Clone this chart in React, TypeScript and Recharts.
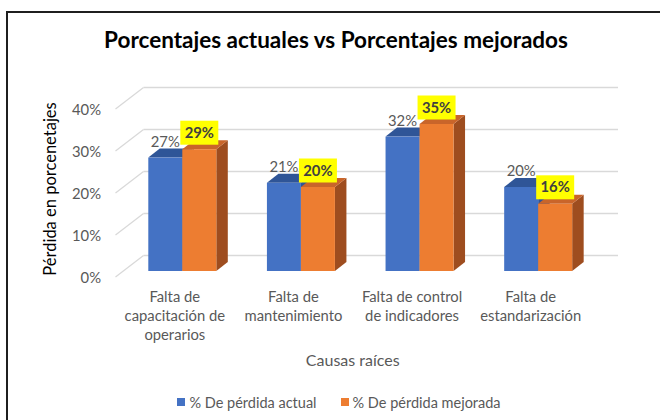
import React from 'react';
import { BarChart, Bar, XAxis, YAxis, CartesianGrid, LabelList, Legend, Label } from 'recharts';

const categories = [
  'Falta de capacitación de operarios',
  'Falta de mantenimiento',
  'Falta de control de indicadores',
  'Falta de estandarización',
];
const categoryLines = [
  ['Falta de', 'capacitación de', 'operarios'],
  ['Falta de', 'mantenimiento'],
  ['Falta de control', 'de indicadores'],
  ['Falta de', 'estandarización'],
];
const actual = [27, 21, 32, 20];
const mejorada = [29, 20, 35, 16];
const yTicks = [0, 10, 20, 30, 40];
const seriesNames = ['% De pérdida actual', '% De pérdida mejorada'];
const title = 'Porcentajes actuales vs Porcentajes mejorados';
const xTitle = 'Causas raíces';
const yTitle = 'Pérdida en porcenetajes';

const data = categories.map((c, i) => ({ cat: c, actual: actual[i], mejorada: mejorada[i] }));

const FONT = "Lato, 'Noto Sans', sans-serif";
const TEXT = '#595959';
const GRID = '#D9D9D9';

// pseudo-3D geometry
const FLOOR_DX = 28;
const FLOOR_DY = 21.5;
const SHIFT_X = 7.8;
const SHIFT_Y = 6;
const BAR_DX = 11.5;
const BAR_DY = 9;

const BLUE = { front: '#4472C4', top: '#2F5597', side: '#2F5597' };
const ORANGE = { front: '#ED7D31', top: '#C9652A', side: '#9E4D1F' };

const makeShape = (c: { front: string; top: string; side: string }) => (props: any) => {
  const { x, y, width, height } = props;
  if (width == null || height == null) return null;
  const fx = x + SHIFT_X;
  const fy = y - SHIFT_Y;
  const w = width;
  const h = height;
  return (
    <g>
      <polygon
        points={`${fx + w},${fy} ${fx + w + BAR_DX},${fy - BAR_DY} ${fx + w + BAR_DX},${fy + h - BAR_DY} ${fx + w},${fy + h}`}
        fill={c.side}
      />
      <polygon
        points={`${fx},${fy} ${fx + w},${fy} ${fx + w + BAR_DX},${fy - BAR_DY} ${fx + BAR_DX},${fy - BAR_DY}`}
        fill={c.top}
      />
      <rect x={fx} y={fy} width={w} height={h} fill={c.front} />
    </g>
  );
};

const gridLine = (p: any) => {
  const { x1, y1, x2, y2 } = p;
  return (
    <g key={`gl-${y1}`}>
      <line x1={x1} y1={y1} x2={x1 + FLOOR_DX} y2={y1 - FLOOR_DY} stroke={GRID} strokeWidth={1.3} />
      <line x1={x1 + FLOOR_DX} y1={y1 - FLOOR_DY} x2={x2 + FLOOR_DX} y2={y2 - FLOOR_DY} stroke={GRID} strokeWidth={1.3} />
    </g>
  );
};

const XTick = (props: any) => {
  const { x, y, payload } = props;
  const idx = categories.indexOf(payload.value);
  const lines = categoryLines[idx] || [payload.value];
  return (
    <text x={x} y={y} textAnchor="middle" fill={TEXT} fontSize={14.8} fontFamily={FONT}>
      {lines.map((l, i) => (
        <tspan key={i} x={x} y={y + 17 + i * 19}>
          {l}
        </tspan>
      ))}
    </text>
  );
};

const YTick = (props: any) => {
  const { y, payload } = props;
  return (
    <text x={101} y={y + 6} textAnchor="end" fill={TEXT} fontSize={14.8} fontFamily={FONT}>
      {`${payload.value}%`}
    </text>
  );
};

const actualLabel = (props: any) => {
  const { x, y, width, value } = props;
  const cx = x + SHIFT_X + width / 2;
  const fy = y - SHIFT_Y;
  return (
    <text x={cx} y={fy - 11} textAnchor="middle" fill={TEXT} fontSize={14.8} fontFamily={FONT}>
      {`${value}%`}
    </text>
  );
};

const mejoradaLabel = (props: any) => {
  const { x, y, width, value } = props;
  const cx = x + SHIFT_X + width / 2;
  const cy = y - SHIFT_Y - 16.5;
  return (
    <g>
      <rect x={cx - 19} y={cy - 12} width={38} height={24} fill="#FFFF00" />
      <text x={cx} y={cy + 5} textAnchor="middle" fill="#404040" fontWeight="bold" fontSize={14.8} fontFamily={FONT}>
        {`${value}%`}
      </text>
    </g>
  );
};

const LegendContent = () => (
  <div
    style={{
      display: 'flex',
      justifyContent: 'center',
      alignItems: 'center',
      height: 20,
      paddingLeft: 18,
      fontFamily: FONT,
      fontSize: 14.5,
      color: TEXT,
      gap: 24,
    }}
  >
    {[BLUE.front, ORANGE.front].map((col, i) => (
      <div key={i} style={{ display: 'flex', alignItems: 'center' }}>
        <span style={{ display: 'inline-block', width: 8, height: 8, background: col, marginRight: 4 }} />
        <span>{seriesNames[i]}</span>
      </div>
    ))}
  </div>
);

export default function App() {
  return (
    <div style={{ position: 'absolute', left: 0, top: 0, width: 660, height: 420, background: '#fff', overflow: 'hidden' }}>
      <div
        style={{
          position: 'absolute',
          left: 6,
          top: 11,
          width: 700,
          height: 500,
          borderTop: '2px solid #1f1f1f',
          borderLeft: '2px solid #1f1f1f',
        }}
      />
      <div
        style={{
          position: 'absolute',
          left: 0,
          top: 26,
          width: 672,
          textAlign: 'center',
          fontFamily: FONT,
          fontWeight: 'bold',
          fontSize: 22.5,
          color: '#000',
          lineHeight: '28px',
        }}
      >
        {title}
      </div>
      <div style={{ position: 'absolute', left: 0, top: 0 }}>
        <BarChart
          width={660}
          height={420}
          data={data}
          margin={{ top: 109, right: 70, bottom: 33, left: 0 }}
          barGap={0}
          barSize={34}
        >
          <CartesianGrid vertical={false} horizontal={gridLine} />
          <XAxis dataKey="cat" axisLine={false} tickLine={false} height={90} tick={<XTick />} interval={0}>
            <Label
              content={(p: any) => {
                const vb = p.viewBox;
                return (
                  <text x={vb.x + vb.width / 2} y={vb.y + vb.height - 1} textAnchor="middle" fill={TEXT} fontSize={16} fontFamily={FONT}>
                    {xTitle}
                  </text>
                );
              }}
            />
          </XAxis>
          <YAxis
            width={115.5}
            domain={[0, 40]}
            ticks={yTicks}
            axisLine={false}
            tickLine={false}
            tick={<YTick />}
          >
            <Label
              content={(p: any) => {
                const vb = p.viewBox;
                const cx = vb.x + 50;
                const cy = vb.y + vb.height / 2 - 4;
                return (
                  <text
                    transform={`translate(${cx},${cy}) rotate(-90)`}
                    textAnchor="middle"
                    dominantBaseline="central"
                    fill="#000"
                    fontSize={16.5}
                    fontFamily={FONT}
                  >
                    {yTitle}
                  </text>
                );
              }}
            />
          </YAxis>
          <Legend content={<LegendContent />} wrapperStyle={{ left: 0, top: 392, width: 660, height: 20 }} />
          <Bar dataKey="actual" name={seriesNames[0]} fill={BLUE.front} shape={makeShape(BLUE)} isAnimationActive={false}>
            <LabelList dataKey="actual" content={actualLabel} />
          </Bar>
          <Bar dataKey="mejorada" name={seriesNames[1]} fill={ORANGE.front} shape={makeShape(ORANGE)} isAnimationActive={false}>
            <LabelList dataKey="mejorada" content={mejoradaLabel} />
          </Bar>
        </BarChart>
      </div>
    </div>
  );
}
